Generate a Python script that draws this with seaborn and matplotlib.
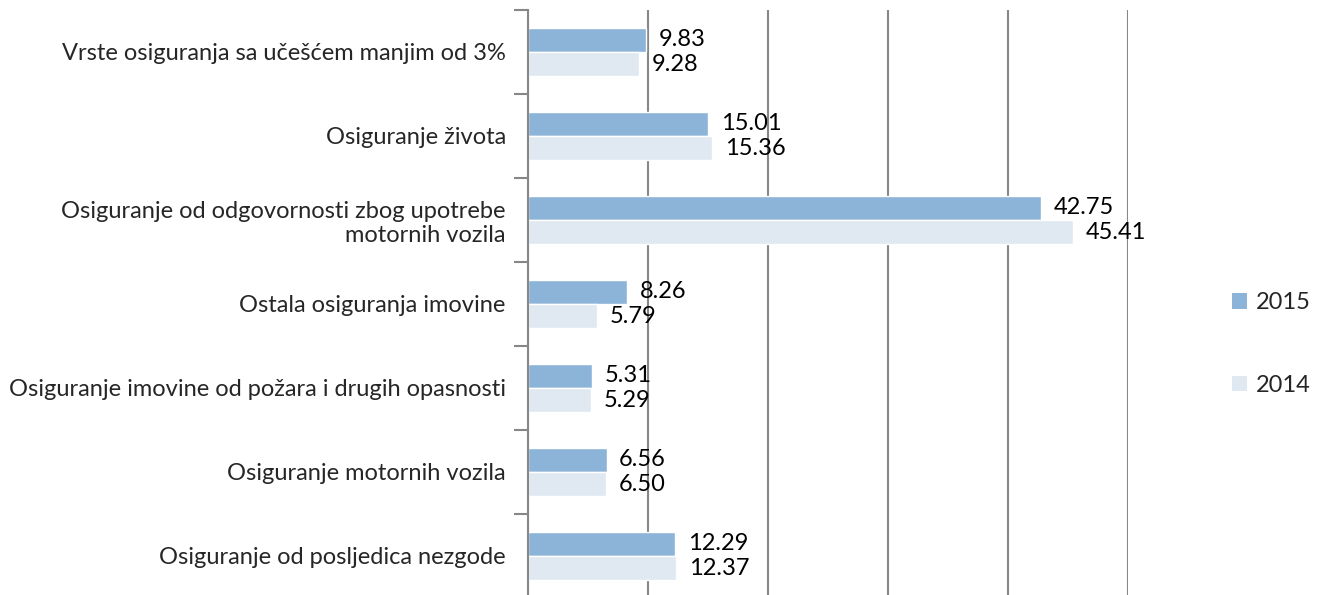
import pandas as pd
import seaborn as sns
import matplotlib.pyplot as plt
from matplotlib.patches import Patch

# Datos del gráfico
kategorije = [
    "Vrste osiguranja sa učešćem manjim od 3%",
    "Osiguranje života",
    "Osiguranje od odgovornosti zbog upotrebe\nmotornih vozila",
    "Ostala osiguranja imovine",
    "Osiguranje imovine od požara i drugih opasnosti",
    "Osiguranje motornih vozila",
    "Osiguranje od posljedica nezgode",
]
vrijednosti_2015 = [9.83, 15.01, 42.75, 8.26, 5.31, 6.56, 12.29]
vrijednosti_2014 = [9.28, 15.36, 45.41, 5.79, 5.29, 6.50, 12.37]
godine = ["2015", "2014"]
boje = ["#8cb4d8", "#e0e8f2"]

df = pd.DataFrame(
    {
        "kategorija": kategorije * 2,
        "vrijednost": vrijednosti_2015 + vrijednosti_2014,
        "godina": [godine[0]] * len(kategorije) + [godine[1]] * len(kategorije),
    }
)

sns.set_style("white")
plt.rcParams["font.family"] = ["Lato", "DejaVu Sans"]

fig = plt.figure(figsize=(13.19, 5.95), dpi=100)
ax = fig.add_axes([528 / 1319, -3 / 595, 600 / 1319, 588 / 595])

sns.barplot(
    data=df,
    y="kategorija",
    x="vrijednost",
    hue="godina",
    hue_order=godine,
    order=kategorije,
    palette=boje,
    orient="h",
    width=0.572,
    gap=0,
    saturation=1,
    legend=False,
    ax=ax,
)

for cont in ax.containers:
    ax.bar_label(cont, fmt="%.2f", padding=9, fontsize=17, color="black")

ax.set_xlim(0, 50)
ax.set_ylim(len(kategorije) - 0.5, -0.5)
ax.set_xticks(range(0, 51, 10))
ax.set_xticklabels([])
ax.tick_params(axis="x", length=0)
ax.grid(axis="x", color="#878787", linewidth=1.5)
ax.set_axisbelow(True)

ax.set_yticks(range(len(kategorije)))
ax.set_yticklabels(kategorije, fontsize=17, ha="right", multialignment="right")
ax.tick_params(axis="y", length=0, pad=16)
ax.set_yticks([i - 0.5 for i in range(len(kategorije) + 1)], minor=True)
ax.tick_params(axis="y", which="minor", left=True, length=10, width=1.5,
               color="#878787", direction="out")

for s in ["top", "right", "bottom"]:
    ax.spines[s].set_visible(False)
ax.spines["left"].set_color("#878787")
ax.spines["left"].set_linewidth(1.5)
ax.set_xlabel("")
ax.set_ylabel("")

handles = [Patch(facecolor=b, edgecolor="none") for b in boje]
fig.legend(
    handles,
    godine,
    loc="center left",
    bbox_to_anchor=(1232 / 1319, 1 - 344 / 595),
    frameon=False,
    fontsize=17,
    borderpad=0,
    borderaxespad=0,
    handlelength=0.65,
    handleheight=0.65,
    handletextpad=0.35,
    labelspacing=2.6,
)

fig.savefig("out.png", dpi=100)
